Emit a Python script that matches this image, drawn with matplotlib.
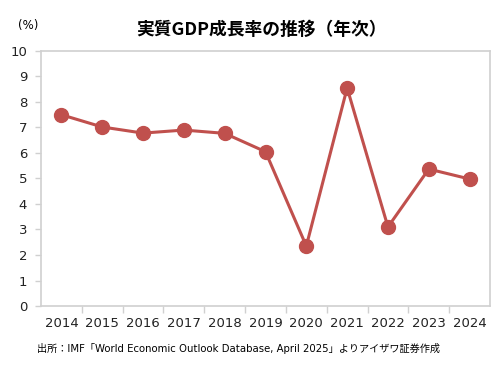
import matplotlib
matplotlib.use("Agg")
import matplotlib.pyplot as plt
from matplotlib.ticker import FixedLocator

plt.rcParams['font.family'] = ['DejaVu Sans', 'Noto Sans CJK JP']

years = ['2014', '2015', '2016', '2017', '2018', '2019', '2020', '2021', '2022', '2023', '2024']
growth = [7.5, 7.02, 6.78, 6.9, 6.77, 6.05, 2.35, 8.55, 3.1, 5.37, 4.98]

title = '実質GDP成長率の推移（年次）'
source = '出所：IMF「World Economic Outlook Database, April 2025」よりアイザワ証券作成'
red = '#c0504d'
grid_gray = '#d0d0d0'

fig = plt.figure(figsize=(5, 3.75), dpi=100)
ax = fig.add_axes([41 / 500, 1 - 306 / 375, 449 / 500, 255 / 375])

x = list(range(len(years)))
ax.plot(x, growth, color=red, linewidth=2.2, marker='o', markersize=10,
        markerfacecolor=red, markeredgecolor=red)

ax.set_xlim(-0.5, len(years) - 0.5)
ax.set_ylim(0, 10)
ax.set_yticks(range(0, 11))
ax.set_xticks(x)
ax.set_xticklabels(years)
ax.xaxis.set_minor_locator(FixedLocator([i + 0.5 for i in range(len(years) - 1)]))
ax.tick_params(axis='x', which='major', length=0, labelsize=9.5, pad=8,
               labelcolor='#222222')
ax.tick_params(axis='x', which='minor', length=5, color=grid_gray, width=1)
ax.tick_params(axis='y', length=4, color=grid_gray, width=1, labelsize=9.5, pad=6,
               labelcolor='#222222')

for s in ax.spines.values():
    s.set_color(grid_gray)
    s.set_linewidth(1.2)

fig.text(0.522, 1 - 30 / 375, title, ha='center', va='center', fontsize=12.8,
         fontweight='bold', family=['Noto Sans CJK JP'])
fig.text(18 / 500, 1 - 25 / 375, '(%)', ha='left', va='center', fontsize=8.5)
fig.text(37 / 500, 1 - 348 / 375, source, ha='left', va='center', fontsize=7.3)

fig.savefig('out.png', dpi=100)
